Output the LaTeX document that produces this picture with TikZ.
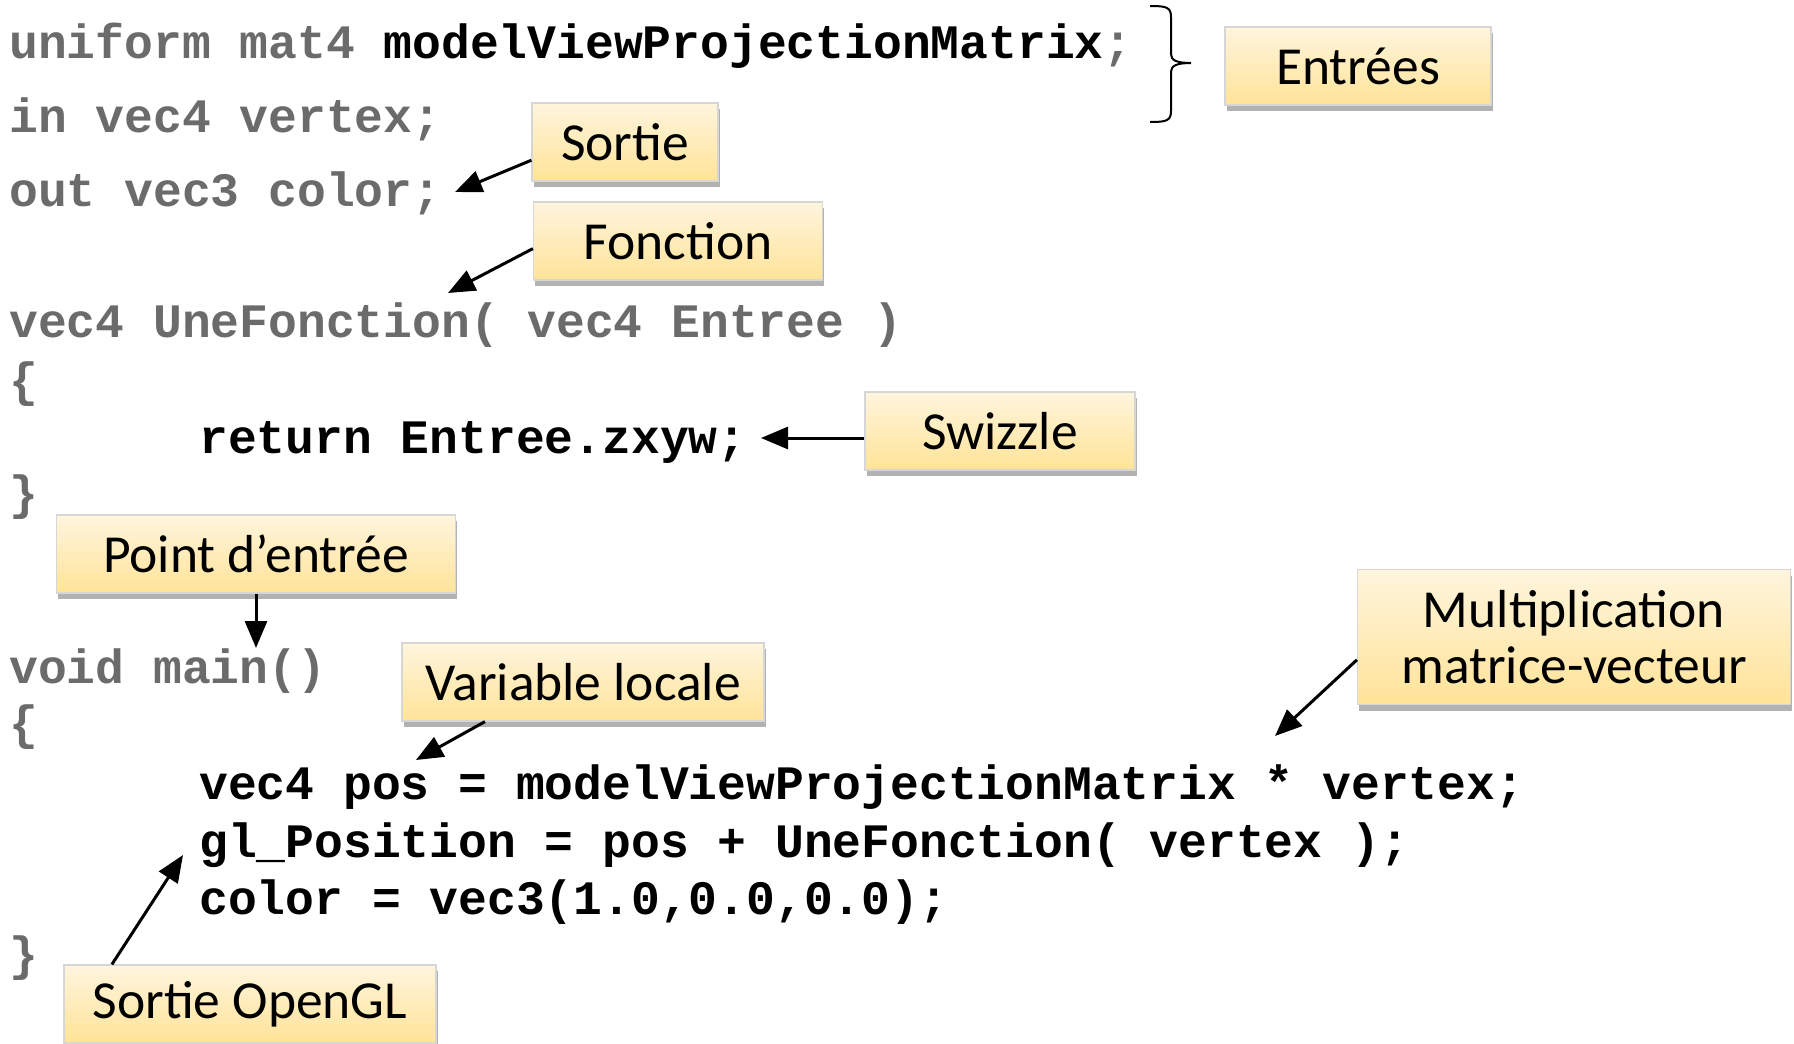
\documentclass[tikz,border=0pt]{standalone}
\usepackage{fontspec}
\setmainfont{Carlito}
\newfontfamily\codefont{Liberation Mono}
\usepackage{xcolor}
\usetikzlibrary{arrows.meta,shadows,calc}

\definecolor{codegray}{HTML}{6B6B6B}
\definecolor{notetop}{HTML}{FFF5DE}
\definecolor{notebot}{HTML}{FFE397}
\definecolor{noteedge}{HTML}{D6D6D6}

\begin{document}
\begin{tikzpicture}[x=1pt, y=-1pt,
  code/.style={anchor=base west, inner sep=0pt, text=codegray, font=\codefont\bfseries\fontsize{48}{56}\selectfont},
  note/.style={draw=noteedge, line width=1.2pt, top color=notetop, bottom color=notebot,
    minimum height=78pt, inner sep=0pt, align=center, font=\fontsize{53.5}{56}\selectfont,
    drop shadow={shadow xshift=1.5pt, shadow yshift=-6pt, fill=black, opacity=0.3}},
  ptr/.style={-{Triangle[length=27pt,width=22pt]}, line width=3pt},
]

\def\cx{9}
\def\ix{199}

\fill[white] (0,0) rectangle (1794,1044);
\useasboundingbox (0,0) rectangle (1794,1044);

% --- declarations ---
\node[code] (uni) at (\cx,58) {uniform mat4 {\color{black}modelViewProjectionMatrix};};
\node[code] (inv) at (\cx,132) {in vec4 vertex;};
\node[code] (outc) at (\cx,206) {out vec3 color;};

% --- function ---
\node[code] (fdecl) at (\cx,337) {vec4 UneFonction( vec4 Entree )};
\node[code] (fopen) at (\cx,396) {\{};
\node[code, text=black] (fret) at (\ix,453) {return Entree.zxyw;};
\node[code] (fclose) at (\cx,509) {\}};

% --- main ---
\node[code] (mdecl) at (\cx,683) {void main()};
\node[code] (mopen) at (\cx,739) {\{};
\node[code, text=black] (mpos) at (\ix,799) {vec4 pos = modelViewProjectionMatrix * vertex;};
\node[code, text=black] (mgl) at (\ix,857) {gl\_Position = pos + UneFonction( vertex );};
\node[code, text=black] (mcol) at (\ix,914) {color = vec3(1.0,0.0,0.0);};
\node[code] (mclose) at (\cx,970) {\}};

% --- brace on the inputs ---
\draw[line width=2pt] (1150,6) .. controls (1166,6) and (1171,7) .. (1171,17) -- (1171,54)
  .. controls (1171,60) and (1176,63) .. (1191,63)
  .. controls (1176,63) and (1171,66) .. (1171,72) -- (1171,111)
  .. controls (1171,121) and (1166,122) .. (1150,122);

% --- notes ---
\node[note, minimum width=266pt] (inputs) at (1358,66) {Entrées};
\node[note, minimum width=186pt] (sortie) at (625,142) {Sortie};
\node[note, minimum width=289pt] (fonction) at (678,241) {Fonction};
\node[note, minimum width=270pt] (swz) at (1000,431) {Swizzle};
\node[note, minimum width=399pt] (entry) at (256,554) {Point d’entrée};
\node[note, minimum width=362pt] (varloc) at (583,682) {Variable locale};
\node[note, minimum width=433pt, minimum height=135pt] (mult) at (1574,637) {Multiplication\\matrice-vecteur};
\node[note, minimum width=372pt] (glout) at (250,1004) {Sortie OpenGL};

% --- arrow tips ---
\coordinate (sortieTip) at (455,192);
\coordinate (fonctionTip) at (448,293);
\coordinate (swzTip) at (761,438);
\coordinate (entryTip) at (256,648);
\coordinate (varlocTip) at (416,760);
\coordinate (multTip) at (1275,736);
\coordinate (gloutTip) at (183,855);

\draw[ptr] (sortie.191) -- (sortieTip);
\draw[ptr] (fonction.183) -- (fonctionTip);
\draw[ptr] (swz.west |- swzTip) -- (swzTip);
\draw[ptr] (entry.south) -- (entryTip);
\draw[ptr] (varloc.202) -- (varlocTip);
\draw[ptr] (mult.186) -- (multTip);
\draw[ptr] (glout.164) -- (gloutTip);

\end{tikzpicture}
\end{document}
